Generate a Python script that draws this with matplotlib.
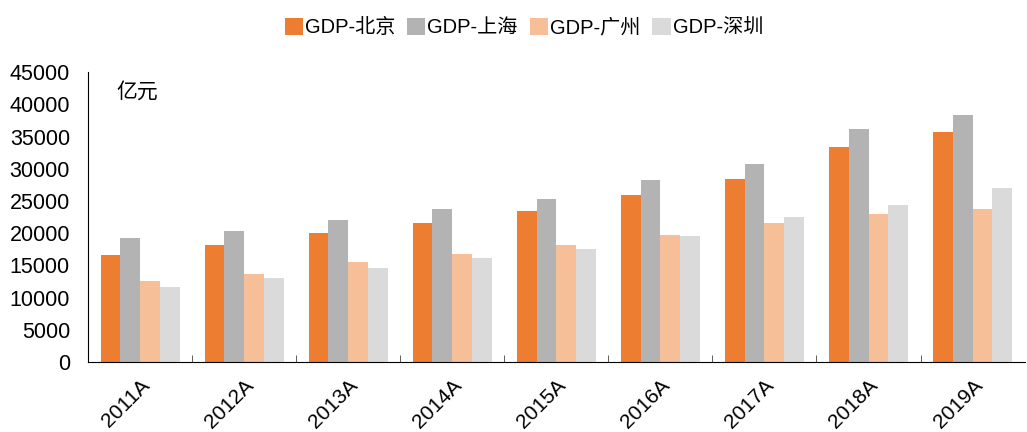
import numpy as np
import matplotlib.pyplot as plt

plt.rcParams['font.family'] = ['Liberation Sans', 'Noto Sans CJK SC', 'DejaVu Sans']

# GDP data (亿元)
years = ['2011A', '2012A', '2013A', '2014A', '2015A', '2016A', '2017A', '2018A', '2019A']
gdp_beijing = [16600, 18100, 20100, 21600, 23400, 26000, 28400, 33400, 35700]
gdp_shanghai = [19300, 20300, 22000, 23700, 25300, 28300, 30800, 36100, 38300]
gdp_guangzhou = [12500, 13600, 15500, 16800, 18200, 19700, 21600, 23000, 23700]
gdp_shenzhen = [11600, 13000, 14600, 16100, 17600, 19600, 22500, 24300, 27000]

series = [
    ('GDP-北京', gdp_beijing, '#ED7D31'),
    ('GDP-上海', gdp_shanghai, '#B3B3B3'),
    ('GDP-广州', gdp_guangzhou, '#F7BF98'),
    ('GDP-深圳', gdp_shenzhen, '#DADADA'),
]

fig = plt.figure(figsize=(10.27, 4.32), dpi=100)
ax = fig.add_axes([0.0857, 0.162, 0.912, 0.671])

x = np.arange(len(years))
w = 0.19
for i, (name, vals, color) in enumerate(series):
    ax.bar(x + (i - 1.5) * w, vals, width=w, color=color, label=name)

ax.set_xlim(-0.5, len(years) - 0.5)
ax.set_ylim(0, 45000)
ax.set_yticks(np.arange(0, 45001, 5000))
ax.tick_params(axis='y', length=0, labelsize=15.5, pad=13)

# group separators as ticks on the x axis
ax.set_xticks(x[:-1] + 0.5, minor=True)
ax.set_xticks(x)
ax.set_xticklabels(years, rotation=45, ha='right', rotation_mode='anchor', fontsize=15)
ax.tick_params(axis='x', which='major', length=0, pad=10)
ax.tick_params(axis='x', which='minor', direction='in', length=5, color='#444444')

for s in ['top', 'right']:
    ax.spines[s].set_visible(False)
ax.spines['left'].set_color('black')
ax.spines['bottom'].set_color('black')

ax.text(0.03, 0.97, '亿元', transform=ax.transAxes, fontsize=15,
        family=['Noto Sans CJK SC'], va='top', ha='left')

fig.legend(loc='upper center', bbox_to_anchor=(0.51, 1.0), ncol=4, frameon=False,
           fontsize=14.5, handlelength=0.9, handleheight=0.9, handletextpad=0.1,
           columnspacing=0.6)

fig.savefig('out.png', dpi=100)
